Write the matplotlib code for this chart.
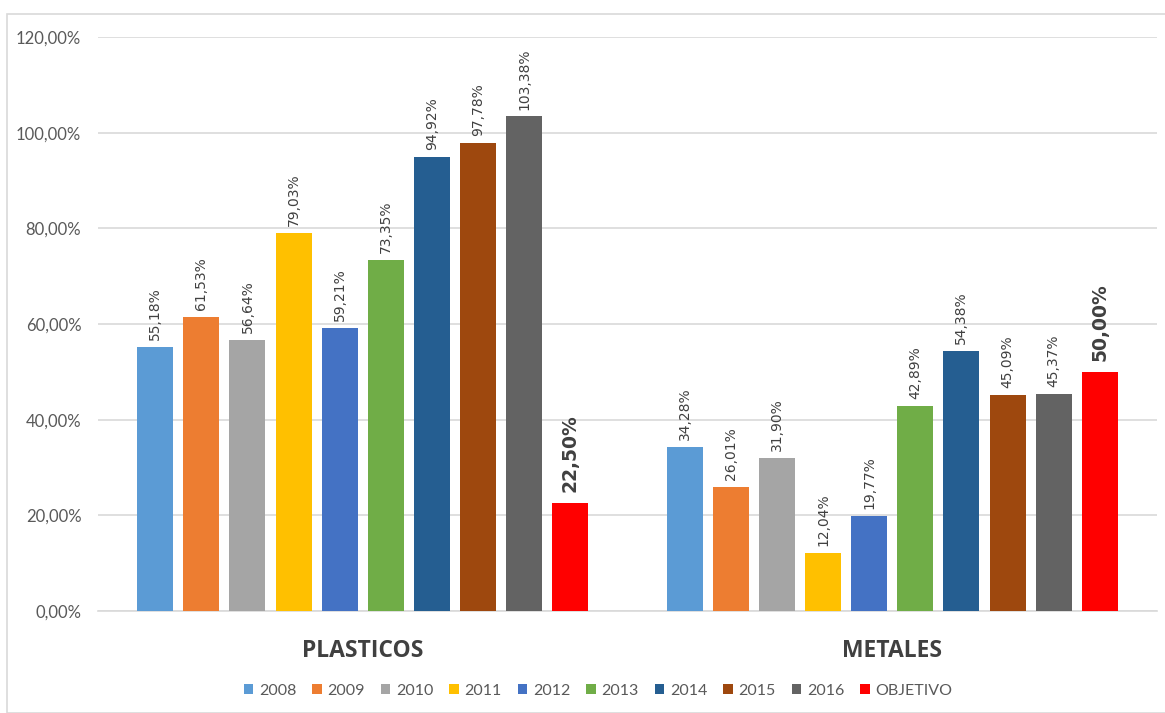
import matplotlib
matplotlib.use("Agg")
import matplotlib.pyplot as plt
from matplotlib.patches import Rectangle
import numpy as np

categories = ["PLASTICOS", "METALES"]
series = ["2008", "2009", "2010", "2011", "2012", "2013", "2014", "2015", "2016", "OBJETIVO"]
values = {
    "2008": [55.18, 34.28],
    "2009": [61.53, 26.01],
    "2010": [56.64, 31.90],
    "2011": [79.03, 12.04],
    "2012": [59.21, 19.77],
    "2013": [73.35, 42.89],
    "2014": [94.92, 54.38],
    "2015": [97.78, 45.09],
    "2016": [103.38, 45.37],
    "OBJETIVO": [22.50, 50.00],
}
colors = ["#5B9BD5", "#ED7D31", "#A5A5A5", "#FFC000", "#4472C4",
          "#70AD47", "#255E91", "#9E480E", "#636363", "#FF0000"]
yticks = [0, 20, 40, 60, 80, 100, 120]

def fmt(v):
    return f"{v:.2f}".replace(".", ",") + "%"

fig = plt.figure(figsize=(11.65, 7.13), dpi=100)
ax = fig.add_axes([98/1165, 1-611/713, 1059/1165, (611-37)/713])

# outer chart border
fig.patches.append(Rectangle((7/1165, 0), 1.2, (713-14)/713, transform=fig.transFigure,
                             fill=False, edgecolor="#d9d9d9", linewidth=1.2))

x = np.arange(len(categories))
pitch = 0.0871
width = 0.068
n = len(series)
for i, s in enumerate(series):
    off = (i - (n - 1) / 2) * pitch
    bars = ax.bar(x + off, values[s], width, color=colors[i], label=s, zorder=3)
    for b, v in zip(bars, values[s]):
        if s == "OBJETIVO":
            ax.annotate(fmt(v), (b.get_x() + b.get_width()/2, v), xytext=(0, 8),
                        textcoords="offset points", rotation=90, ha="center", va="bottom",
                        fontsize=13.5, fontweight="bold", color="#404040")
        else:
            ax.annotate(fmt(v), (b.get_x() + b.get_width()/2, v), xytext=(0, 5),
                        textcoords="offset points", rotation=90, ha="center", va="bottom",
                        fontsize=10, color="#404040")

ax.set_xlim(-0.5, 1.5)
ax.set_ylim(0, 120)
ax.set_yticks(yticks)
ax.set_yticklabels([f"{t},00%" for t in yticks], fontsize=12, color="#595959",
                   family=["Lato", "DejaVu Sans"])
ax.set_xticks(x)
ax.set_xticklabels(categories, fontsize=16.5, fontweight="bold", color="#404040",
                   family=["Open Sans", "DejaVu Sans"])
ax.tick_params(axis="both", length=0)
ax.tick_params(axis="y", pad=12)
ax.tick_params(axis="x", pad=20)
ax.grid(axis="y", color="#d9d9d9", linewidth=1.2, zorder=0)
for sp in ["top", "right", "left"]:
    ax.spines[sp].set_visible(False)
ax.spines["bottom"].set_color("#d9d9d9")
ax.spines["bottom"].set_linewidth(1.2)

leg = fig.legend(loc="center", bbox_to_anchor=(598/1165, 1-691/713), ncol=10, frameon=False,
                 handlelength=0.6, handleheight=0.6, handletextpad=0.35,
                 columnspacing=1.0, prop={"family": ["Lato", "DejaVu Sans"], "size": 11.5})
for t in leg.get_texts():
    t.set_color("#595959")

fig.savefig("out.png", dpi=100)
